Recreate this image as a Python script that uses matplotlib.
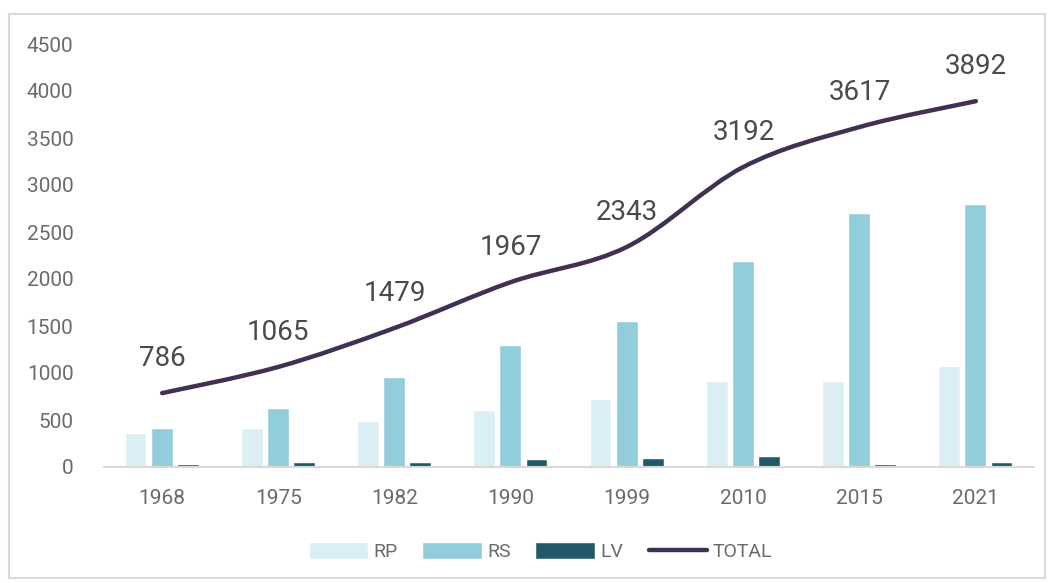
import matplotlib
matplotlib.use('Agg')
from matplotlib import pyplot as plt
from matplotlib.path import Path
from matplotlib.patches import PathPatch, Rectangle
from matplotlib.lines import Line2D
import numpy as np

# 数据
years = ['1968', '1975', '1982', '1990', '1999', '2010', '2015', '2021']
rp = [352, 400, 480, 598, 715, 900, 905, 1065]
rs = [408, 620, 952, 1292, 1540, 2185, 2688, 2782]
lv = [22, 45, 47, 77, 88, 107, 24, 45]
total = [786, 1065, 1479, 1967, 2343, 3192, 3617, 3892]

plt.rcParams['font.family'] = ['Roboto', 'DejaVu Sans']
text_color = '#6b6b6b'

fig = plt.figure(figsize=(10.5, 5.83), dpi=100)
# 外框
fig.patches.append(Rectangle((9 / 1050, 5 / 583), 1036 / 1050, 564 / 583, transform=fig.transFigure,
                             fill=False, edgecolor='#D9D9D9', linewidth=1.5))
ax = fig.add_axes([104 / 1050, (583 - 467) / 583, 930 / 1050, 423 / 583])

x = np.arange(len(years))
w = 0.18
ax.bar(x - 0.225, rp, w, color='#DAEEF3', edgecolor='white', linewidth=0.3, label='RP')
ax.bar(x, rs, w, color='#92CDDC', edgecolor='white', linewidth=0.3, label='RS')
ax.bar(x + 0.225, lv, w, color='#215968', edgecolor='white', linewidth=0.3, label='LV')

# 平滑曲线 (类似Excel的平滑线)
pts = np.column_stack([x, total]).astype(float)
verts = [pts[0]]
codes = [Path.MOVETO]
n = len(pts)
for i in range(n - 1):
    p0 = pts[i - 1] if i > 0 else pts[i]
    p1 = pts[i]
    p2 = pts[i + 1]
    p3 = pts[i + 2] if i + 2 < n else pts[i + 1]
    c1 = p1 + (p2 - p0) / 6
    c2 = p2 - (p3 - p1) / 6
    verts += [c1, c2, p2]
    codes += [Path.CURVE4] * 3
ax.add_patch(PathPatch(Path(verts, codes), fill=False, edgecolor='#403151', linewidth=3.2,
                       capstyle='round', joinstyle='round', zorder=3))

for xi, v in zip(x, total):
    ax.annotate(str(v), (xi, v), xytext=(0, 25), textcoords='offset points', ha='center', va='center',
                fontsize=20, color='#4a4a4a')

ax.set_xlim(-0.5, len(years) - 0.5)
ax.set_ylim(0, 4500)
ax.set_yticks(range(0, 4501, 500))
ax.set_xticks(x)
ax.set_xticklabels(years)
for s in ['top', 'right', 'left']:
    ax.spines[s].set_visible(False)
ax.spines['bottom'].set_color('#D9D9D9')
ax.spines['bottom'].set_linewidth(1.5)
ax.tick_params(axis='both', length=0, labelsize=15, labelcolor=text_color)
ax.tick_params(axis='x', pad=16)
ax.tick_params(axis='y', pad=22)

handles, labels = ax.get_legend_handles_labels()
handles.append(Line2D([0], [0], color='#403151', linewidth=3.2, solid_capstyle='round'))
labels.append('TOTAL')
leg = fig.legend(handles, labels, loc='center', bbox_to_anchor=(541 / 1050, (583 - 552) / 583), ncol=4,
                 frameon=False, fontsize=14, handlelength=3.0, handleheight=0.9, handletextpad=0.3,
                 columnspacing=1.3)
for t in leg.get_texts():
    t.set_color(text_color)

fig.savefig('out.png', dpi=100)
